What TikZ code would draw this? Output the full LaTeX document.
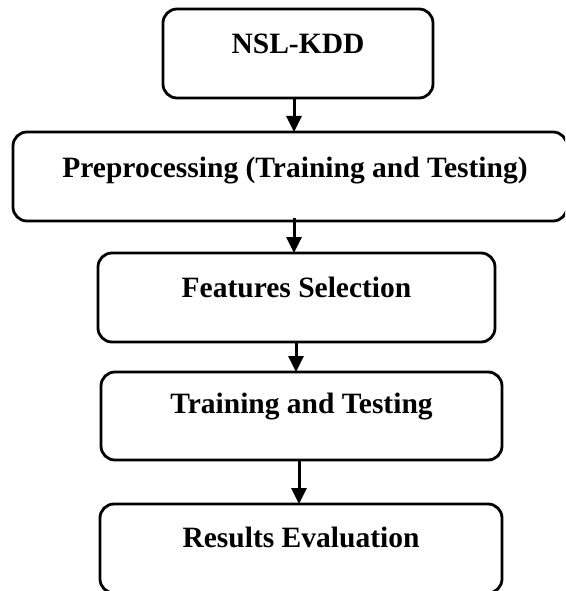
\documentclass[tikz,border=0pt]{standalone}
\usepackage{fontspec}
\setmainfont{Liberation Serif}
\usetikzlibrary{arrows.meta}
\tikzset{
  stage/.style={draw=black, line width=2.8pt, rounded corners=14pt, fill=white,
    inner sep=0pt, outer sep=0pt},
  caption/.style={anchor=base, inner sep=0pt,
    font=\fontsize{29.5}{34}\selectfont\bfseries},
  flow/.style={line width=3pt, -{Triangle[length=16pt,width=15pt]}},
}
\begin{document}
\begin{tikzpicture}[x=1pt,y=-1pt]
\useasboundingbox (0,0) rectangle (565,591);
\clip (0,0) rectangle (565,591);

% stage boxes
\node[stage, minimum width=270pt, minimum height=89pt] (b1) at (298,53.5) {};
\node[stage, minimum width=554pt, minimum height=89pt] (b2) at (290,176.5) {};
\node[stage, minimum width=397pt, minimum height=89pt] (b3) at (296.5,297.5) {};
\node[stage, minimum width=401pt, minimum height=88pt] (b4) at (301.5,416) {};
\node[stage, minimum width=402pt, minimum height=89pt] (b5) at (301,548.5) {};

% captions, set in the upper part of each box
\node[caption] (t1) at ([yshift=-45pt]b1.north) {NSL-KDD};
\node[caption] (t2) at ([xshift=5pt,yshift=-45pt]b2.north) {Preprocessing (Training and Testing)};
\node[caption] (t3) at ([yshift=-44pt]b3.north) {Features Selection};
\node[caption] (t4) at ([yshift=-41pt]b4.north) {Training and Testing};
\node[caption] (t5) at ([yshift=-43pt]b5.north) {Results Evaluation};

% connectors
\draw[flow] ([xshift=-4pt]b1.south) -- ([xshift=-4pt]b1.south |- b2.north);
\draw[flow] ([xshift=4pt,yshift=3pt]b2.south) -- ([xshift=4pt]b2.south |- b3.north);
\draw[flow] ([xshift=-0.5pt]b3.south) -- ([xshift=-0.5pt]b3.south |- b4.north);
\draw[flow] ([xshift=-2.5pt]b4.south) -- ([xshift=-2.5pt]b4.south |- b5.north);
\end{tikzpicture}
\end{document}
